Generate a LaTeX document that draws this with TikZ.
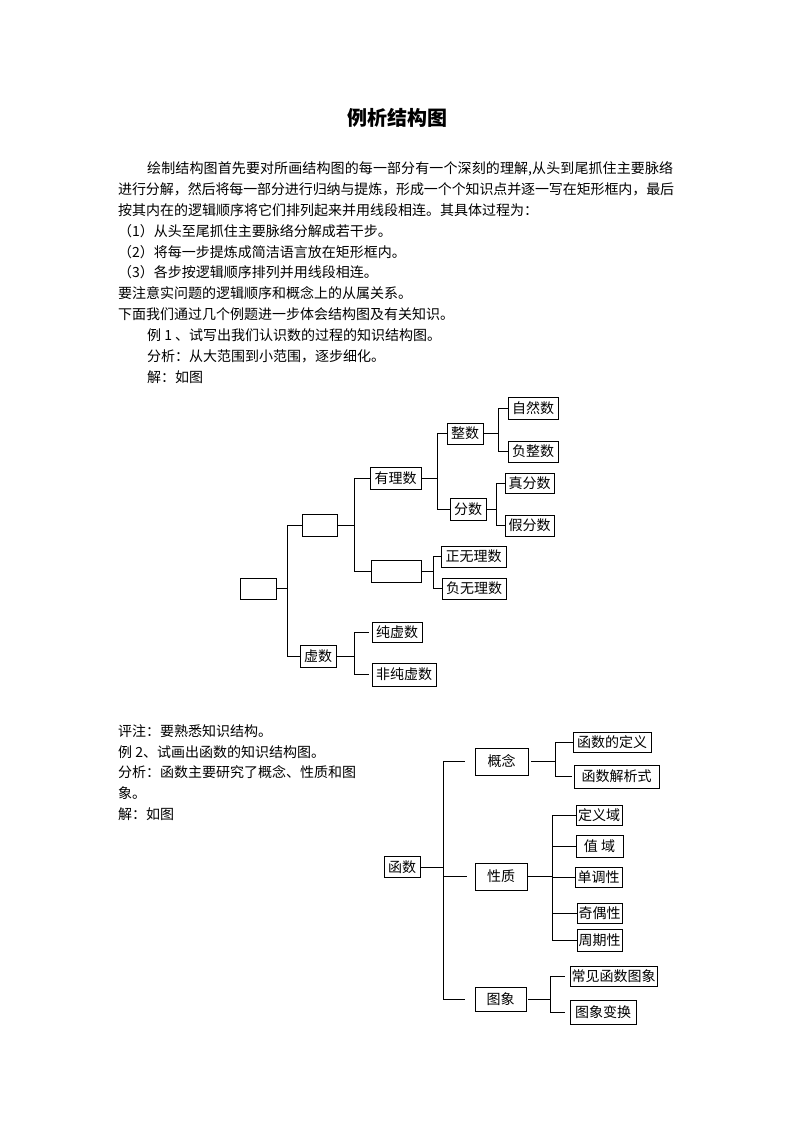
\documentclass[tikz,border=0pt]{standalone}
\usepackage{fontspec}
\setmainfont{Noto Sans CJK SC}
\newcommand\jline[2]{\parbox[b]{#1}{\XeTeXlinebreaklocale "zh"\XeTeXlinebreakskip=0pt plus 3pt minus 0.3pt\relax\parfillskip=0pt\parindent=0pt\rightskip=0pt\leftskip=0pt\tolerance=9999 #2}}
\tikzset{
  bx/.style={draw, line width=0.8pt, inner sep=0pt, font=\fontsize{14}{16}\selectfont},
  ln/.style={line width=0.8pt},
  txt/.style={anchor=base west, inner sep=0pt, font=\fontsize{14}{16}\selectfont},
}
\begin{document}
\begin{tikzpicture}[x=1pt, y=-1pt]
\fill[white] (0,0) rectangle (794,1123);
\useasboundingbox (0,0) rectangle (794,1123);

% title
\node[anchor=base, inner sep=0pt, font=\fontsize{20}{24}\selectfont\bfseries] (title) at (397,125.6) {例析结构图};

% body text
\node[txt] (l1) at (147,173.3) {\jline{526pt}{绘制结构图首先要对所画结构图的每一部分有一个深刻的理解,从头到尾抓住主要脉络}};
\node[txt] (l2) at (118,194.3) {\jline{556pt}{进行分解，然后将每一部分进行归纳与提炼，形成一个个知识点并逐一写在矩形框内，最后}};
\node[txt] (l3) at (118,215.3) {按其内在的逻辑顺序将它们排列起来并用线段相连。其具体过程为：};
\node[txt] (l4) at (118,236.3) {（1）从头至尾抓住主要脉络分解成若干步。};
\node[txt] (l5) at (118,257.3) {（2）将每一步提炼成简洁语言放在矩形框内。};
\node[txt] (l6) at (118,277.3) {（3）各步按逻辑顺序排列并用线段相连。};
\node[txt] (l7) at (118,298.3) {要注意实问题的逻辑顺序和概念上的从属关系。};
\node[txt] (l8) at (118,319.3) {下面我们通过几个例题进一步体会结构图及有关知识。};
\node[txt] (l9) at (147,340.3) {例 1 、试写出我们认识数的过程的知识结构图。};
\node[txt] (l10) at (147,361.3) {分析：从大范围到小范围，逐步细化。};
\node[txt] (l11) at (147,382.3) {解：如图};

% diagram 1
\node[bx, minimum width=36pt, minimum height=21pt] (r1) at (258,588.5) {};
\node[bx, minimum width=35pt, minimum height=22pt] (shi) at (319.5,525) {};
\node[bx, minimum width=36pt, minimum height=22pt] (xu) at (318,656) {虚数};
\node[bx, minimum width=51pt, minimum height=22pt] (you) at (395.5,478) {有理数};
\node[bx, minimum width=50pt, minimum height=22pt] (wu) at (396,571) {};
\node[bx, minimum width=36pt, minimum height=21pt] (zheng) at (465,433.5) {整数};
\node[bx, minimum width=36pt, minimum height=22pt] (fen) at (468,509) {分数};
\node[bx, minimum width=50pt, minimum height=22pt] (ziran) at (533,408) {自然数};
\node[bx, minimum width=50pt, minimum height=21pt] (fuz) at (533,451.5) {负整数};
\node[bx, minimum width=49pt, minimum height=20pt] (zhen) at (529.5,483) {真分数};
\node[bx, minimum width=49pt, minimum height=21pt] (jia) at (529.5,525.5) {假分数};
\node[bx, minimum width=65pt, minimum height=21pt] (zwl) at (473.5,556.5) {正无理数};
\node[bx, minimum width=64pt, minimum height=21pt] (fwl) at (474,588.5) {负无理数};
\node[bx, minimum width=50pt, minimum height=20pt] (cxs) at (397,632.5) {纯虚数};
\node[bx, minimum width=64pt, minimum height=23pt] (fcxs) at (404,674.5) {非纯虚数};

\coordinate (b1) at (287,0);
\coordinate (b2) at (354,0);
\coordinate (b3) at (437,0);
\coordinate (b4) at (498,0);
\coordinate (b5) at (496,0);
\coordinate (b6) at (433,0);
\coordinate (b7) at (354,0);

\draw[ln] (r1.east) -- (r1.east -| b1);
\draw[ln] (shi.west) -- (shi.west -| b1) -- (xu.west -| b1) -- (xu.west);
\draw[ln] (shi.east) -- (shi.east -| b2);
\draw[ln] (you.west) -- (you.west -| b2) -- (wu.west -| b2) -- (wu.west);
\draw[ln] (you.east) -- (you.east -| b3);
\draw[ln] (zheng.west) -- (zheng.west -| b3) -- (fen.west -| b3) -- (fen.west);
\draw[ln] (zheng.east) -- (zheng.east -| b4);
\draw[ln] (ziran.west) -- (ziran.west -| b4) -- (fuz.west -| b4) -- (fuz.west);
\draw[ln] (fen.east) -- (fen.east -| b5);
\draw[ln] (zhen.west) -- (zhen.west -| b5) -- (jia.west -| b5) -- (jia.west);
\draw[ln] (wu.east) -- (wu.east -| b6);
\draw[ln] (zwl.west) -- (zwl.west -| b6) -- (fwl.west -| b6) -- (fwl.west);
\draw[ln] (xu.east) -- (xu.east -| b7);
\draw[ln,shorten >=3pt] (cxs.west -| b7) -- (cxs.west);
\draw[ln] (cxs.west -| b7) -- (fcxs.west -| b7);
\draw[ln,shorten >=3pt] (fcxs.west -| b7) -- (fcxs.west);

% lower text
\node[txt] (m1) at (118,736.3) {评注：要熟悉知识结构。};
\node[txt] (m2) at (118,757.3) {例 2、试画出函数的知识结构图。};
\node[txt] (m3) at (118,777.3) {分析：函数主要研究了概念、性质和图};
\node[txt] (m4) at (118,798.3) {象。};
\node[txt] (m5) at (118,819.3) {解：如图};

% diagram 2
\node[bx, minimum width=36pt, minimum height=21pt] (hs) at (402,867) {函数};
\node[bx, minimum width=53pt, minimum height=27pt] (gn) at (501.5,761.5) {概念};
\node[bx, minimum width=52pt, minimum height=27pt] (xz) at (501,876.5) {性质};
\node[bx, minimum width=51pt, minimum height=24pt] (tx) at (500.5,999) {图象};
\node[bx, minimum width=78pt, minimum height=20pt] (dy) at (612,742) {函数的定义};
\node[bx, minimum width=85pt, minimum height=23pt] (jx) at (616.5,776.5) {函数解析式};
\node[bx, minimum width=46pt, minimum height=20pt] (dyy) at (599,815) {定义域};
\node[bx, minimum width=47pt, minimum height=22pt] (zy) at (599.5,846) {值\ 域};
\node[bx, minimum width=47pt, minimum height=20pt] (ddx) at (598.5,877) {单调性};
\node[bx, minimum width=45pt, minimum height=20pt] (qox) at (599.5,913) {奇偶性};
\node[bx, minimum width=45pt, minimum height=22pt] (zqx) at (599.5,940) {周期性};
\node[bx, minimum width=87pt, minimum height=20pt] (cj) at (613.5,976.5) {常见函数图象};
\node[bx, minimum width=66pt, minimum height=24pt] (bh) at (603,1012) {图象变换};

\coordinate (d1) at (443,0);
\coordinate (d2) at (555,0);
\coordinate (d3) at (552,0);
\coordinate (d4) at (550,0);

\draw[ln] (hs.east) -- (hs.east -| d1);
\draw[ln] (gn.west -| d1) -- (tx.west -| d1);
\draw[ln,shorten >=10pt] (gn.west -| d1) -- (gn.west);
\draw[ln,shorten >=8pt] (xz.west -| d1) -- (xz.west);
\draw[ln,shorten >=10pt] (tx.west -| d1) -- (tx.west);

\draw[ln,shorten <=3pt] (gn.east) -- (gn.east -| d2);
\draw[ln,shorten >=2pt] (dy.west) -- (dy.west -| d2) -- (jx.west -| d2) -- (jx.west);

\draw[ln] (xz.east) -- (xz.east -| d3);
\draw[ln] (dyy.west) -- (dyy.west -| d3) -- (zqx.west -| d3) -- (zqx.west);
\draw[ln] (zy.west -| d3) -- (zy.west);
\draw[ln] (ddx.west -| d3) -- (ddx.west);
\draw[ln] (qox.west -| d3) -- (qox.west);

\draw[ln,shorten <=2pt] (tx.east) -- (tx.east -| d4);
\draw[ln,shorten >=5pt] (cj.west -| d4) -- (cj.west);
\draw[ln] (cj.west -| d4) -- (bh.west -| d4);
\draw[ln,shorten >=5pt] (bh.west -| d4) -- (bh.west);
\end{tikzpicture}
\end{document}
